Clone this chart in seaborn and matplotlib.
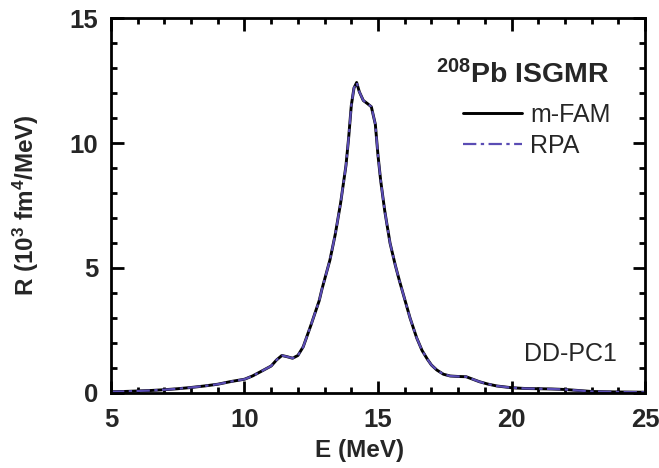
import matplotlib
matplotlib.use("Agg")
import matplotlib.pyplot as plt
import seaborn as sns
import pandas as pd
from matplotlib.ticker import MultipleLocator

# ---- data ----
energy = [5.0, 5.5, 6.0, 6.5, 7.0, 7.5, 8.0, 8.5, 9.0, 9.5, 10.0, 10.3, 10.6, 11.0,
          11.2, 11.4, 11.6, 11.8, 12.0, 12.2, 12.5, 12.8, 12.9, 13.2, 13.4, 13.6,
          13.8, 13.9, 14.0, 14.1, 14.2, 14.3, 14.45, 14.6, 14.75, 14.9, 15.0, 15.1,
          15.25, 15.45, 15.65, 15.8, 16.0, 16.2, 16.45, 16.65, 16.85, 17.0, 17.2,
          17.45, 17.7, 18.0, 18.3, 18.55, 18.8, 19.1, 19.45, 20.0, 20.5, 21.0, 21.5,
          22.0, 22.5, 23.0, 24.0, 25.0]
r_mfam = [0.05, 0.06, 0.08, 0.10, 0.13, 0.17, 0.22, 0.28, 0.35, 0.46, 0.55, 0.68,
          0.85, 1.08, 1.32, 1.50, 1.45, 1.39, 1.50, 1.85, 2.75, 3.70, 4.15, 5.32,
          6.35, 7.60, 9.10, 10.20, 11.50, 12.20, 12.42, 12.05, 11.70, 11.58, 11.45,
          10.75, 9.50, 8.50, 7.30, 6.00, 5.10, 4.50, 3.75, 3.00, 2.20, 1.70, 1.35,
          1.12, 0.92, 0.75, 0.68, 0.66, 0.65, 0.55, 0.45, 0.36, 0.28, 0.21, 0.18,
          0.17, 0.16, 0.14, 0.10, 0.06, 0.04, 0.03]
r_rpa = list(r_mfam)
series_labels = ["m-FAM", "RPA"]
title_text = r"$^{208}$Pb ISGMR"
model_text = "DD-PC1"
x_ticks = [5, 10, 15, 20, 25]
y_ticks = [0, 5, 10, 15]

sns.set_theme(style="ticks")
plt.rcParams["font.family"] = ["Liberation Sans", "DejaVu Sans"]
plt.rcParams["mathtext.fontset"] = "custom"
plt.rcParams["mathtext.rm"] = "Liberation Sans:bold"
plt.rcParams["mathtext.bf"] = "Liberation Sans:bold"
plt.rcParams["mathtext.default"] = "rm"

df = pd.concat([
    pd.DataFrame({"E": energy, "R": r_mfam, "method": series_labels[0]}),
    pd.DataFrame({"E": energy, "R": r_rpa, "method": series_labels[1]}),
])

fig = plt.figure(figsize=(6.59, 4.68), dpi=100)
ax = fig.add_axes([0.1684, 0.1603, 0.8104, 0.8012])

sns.lineplot(data=df[df.method == "m-FAM"], x="E", y="R", color="black",
             linewidth=2.1, ax=ax, label="m-FAM", sort=False)
sns.lineplot(data=df[df.method == "RPA"], x="E", y="R", color="#5a4cb4",
             linewidth=1.6, ax=ax, label="RPA", sort=False,
             linestyle=(0, (6, 2, 1.5, 2)))

ax.set_xlim(5, 25)
ax.set_ylim(0, 15)
ax.set_xticks(x_ticks)
ax.set_yticks(y_ticks)
ax.xaxis.set_minor_locator(MultipleLocator(1))
ax.yaxis.set_minor_locator(MultipleLocator(1))
ax.tick_params(which="both", direction="in", top=True, right=True, width=2,
               color="black")
ax.tick_params(which="major", length=9, labelsize=18.5)
ax.tick_params(axis="x", which="major", pad=11)
ax.tick_params(axis="y", which="major", pad=9)
ax.tick_params(which="minor", length=4.5)
for lab in ax.get_xticklabels() + ax.get_yticklabels():
    lab.set_fontweight("bold")
for sp in ax.spines.values():
    sp.set_linewidth(2)
    sp.set_color("black")

ax.set_xlabel("E (MeV)", fontsize=17.5, fontweight="bold")
ax.set_ylabel(r"R (10$^3$ fm$^4$/MeV)", fontsize=17.5, fontweight="bold")
ax.xaxis.set_label_coords((360 - 111) / 534, -0.122)
ax.yaxis.set_label_coords(-0.131, 0.5)

leg = ax.legend(loc="upper left", bbox_to_anchor=(0.659, 0.774), frameon=False,
                fontsize=18, handlelength=2.36, handletextpad=0.32,
                borderpad=0, borderaxespad=0, labelspacing=0.27)

ax.text(0.934, 0.826, title_text, transform=ax.transAxes, ha="right",
        va="baseline", fontsize=20.5, fontweight="bold")
ax.text(0.948, 0.085, model_text, transform=ax.transAxes, ha="right",
        va="baseline", fontsize=18)

fig.savefig("out.png", dpi=100)
